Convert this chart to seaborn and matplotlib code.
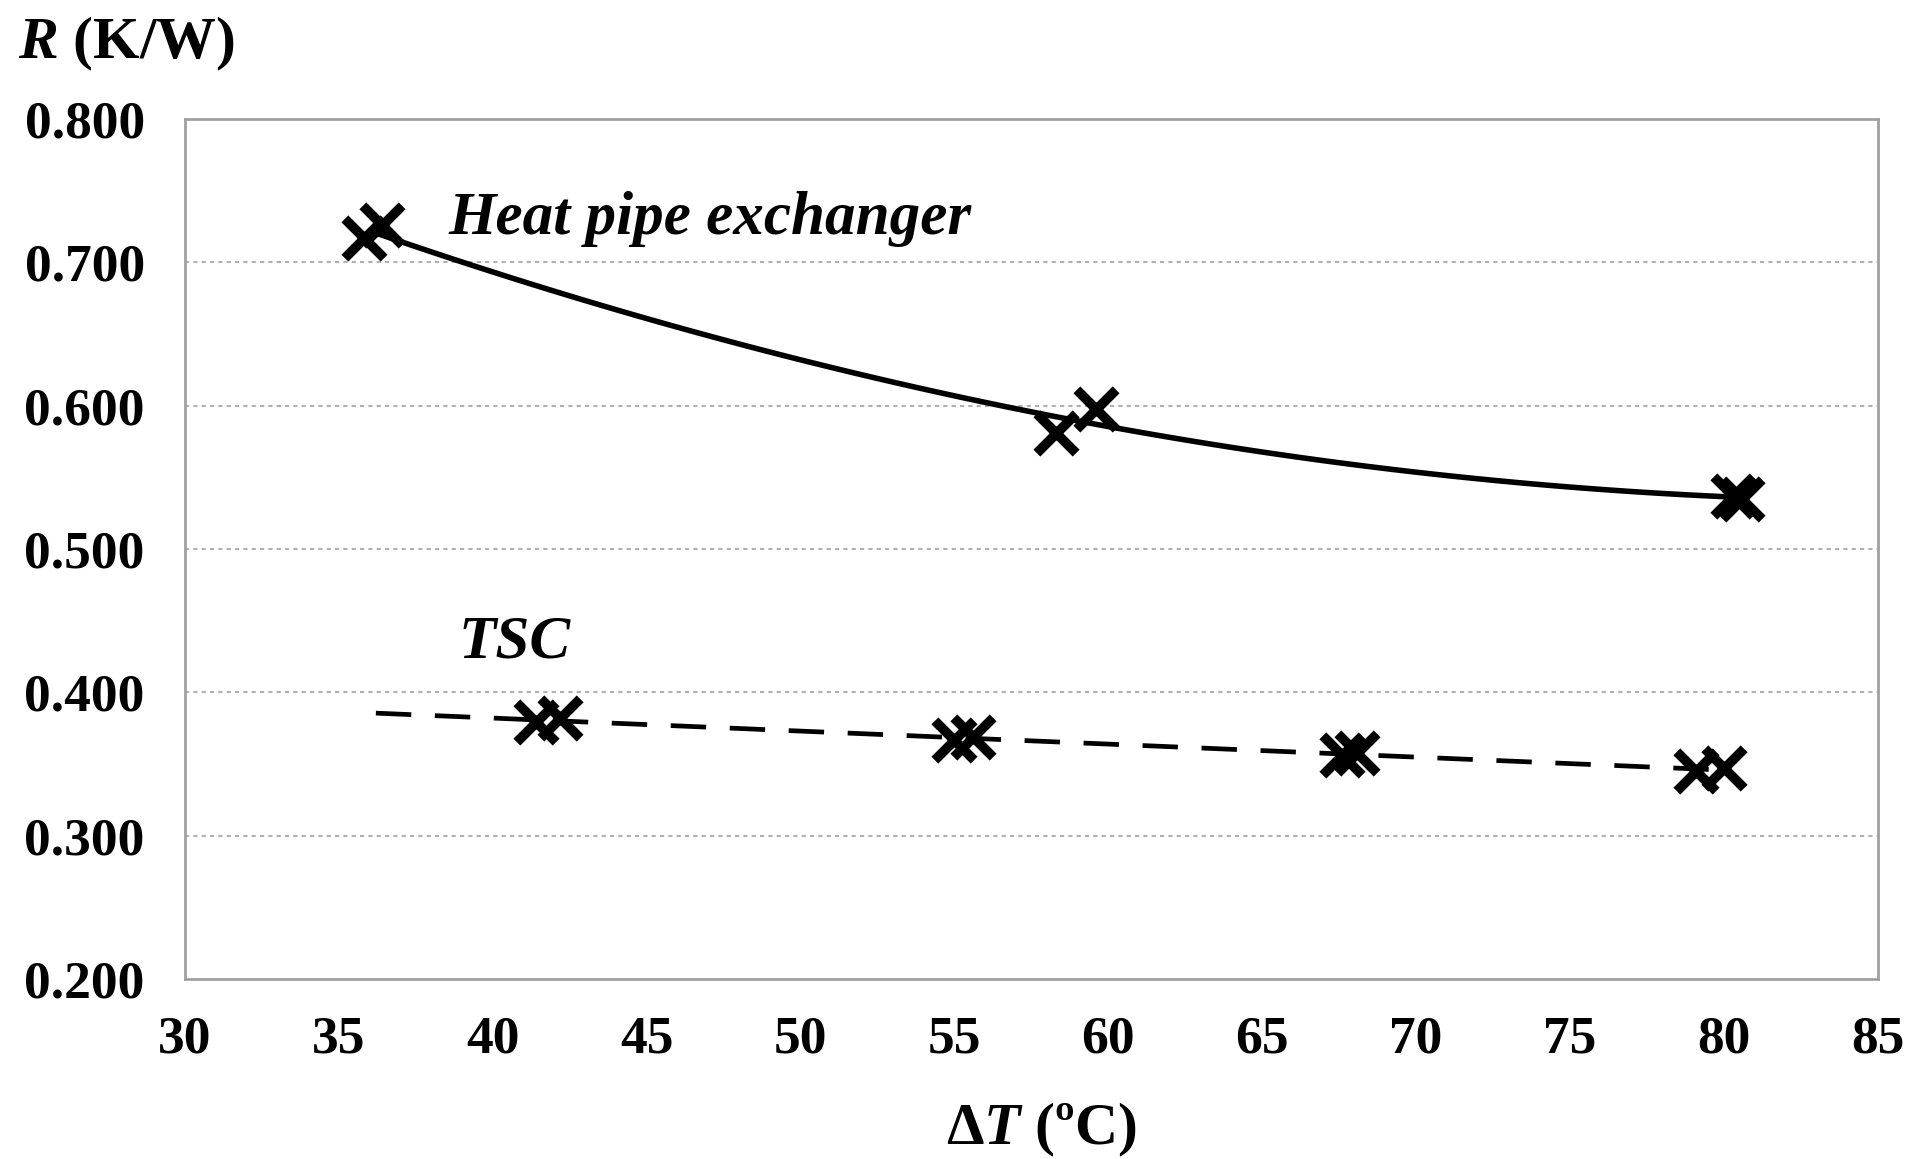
import numpy as np
import pandas as pd
import matplotlib
matplotlib.use('Agg')
import matplotlib.pyplot as plt
import seaborn as sb

# data
hp_dt = [35.8, 36.4, 58.3, 59.6, 80.3, 80.6]
hp_r = [0.717, 0.726, 0.581, 0.598, 0.537, 0.535]
tsc_dt = [41.4, 42.2, 55.0, 55.6, 67.6, 68.1, 79.1, 80.0]
tsc_r = [0.379, 0.382, 0.367, 0.369, 0.356, 0.358, 0.345, 0.347]
x_ticks = [30, 35, 40, 45, 50, 55, 60, 65, 70, 75, 80, 85]
y_ticks = [0.2, 0.3, 0.4, 0.5, 0.6, 0.7, 0.8]

sb.set_style('white')
plt.rcParams['font.family'] = ['Liberation Serif', 'DejaVu Serif']
plt.rcParams['font.weight'] = 'bold'
plt.rcParams['text.color'] = 'black'
plt.rcParams['mathtext.fontset'] = 'custom'
plt.rcParams['mathtext.it'] = 'Liberation Serif:bold:italic'
plt.rcParams['mathtext.rm'] = 'Liberation Serif:bold'

fig = plt.figure(figsize=(19.1, 11.59), dpi=100)
ax = fig.add_axes([0.0969, 0.1553, 0.8861, 0.742])

# trend lines fitted to the points (Excel style)
c_hp = np.polyfit(hp_dt, hp_r, 2)
xs_hp = np.linspace(36.0, 80.5, 100)
hp_fit = pd.DataFrame({'dt': xs_hp, 'r': np.polyval(c_hp, xs_hp)})
c_tsc = np.polyfit(tsc_dt, tsc_r, 1)
xs_tsc = np.linspace(36.2, 80.2, 50)
tsc_fit = pd.DataFrame({'dt': xs_tsc, 'r': np.polyval(c_tsc, xs_tsc)})

sb.lineplot(data=hp_fit, x='dt', y='r', ax=ax, color='black', lw=4, estimator=None, sort=False)
sb.lineplot(data=tsc_fit, x='dt', y='r', ax=ax, color='black', lw=3.4, estimator=None, sort=False)
ax.lines[-1].set_dashes((7.5, 5))

sb.scatterplot(x=hp_dt, y=hp_r, ax=ax, marker='x', s=800, linewidth=7, color='black', zorder=5)
sb.scatterplot(x=tsc_dt, y=tsc_r, ax=ax, marker='x', s=800, linewidth=7, color='black', zorder=5)

ax.set_xlim(30, 85)
ax.set_ylim(0.2, 0.8)
ax.set_xticks(x_ticks)
ax.set_yticks(y_ticks)
ax.set_yticklabels(['%.3f' % v for v in y_ticks])
ax.set_xlabel('')
ax.set_ylabel('')
ax.tick_params(axis='both', direction='out', length=11, width=1.5, color='#909090',
               labelcolor='black', labelsize=38.5, pad=15)
ax.tick_params(axis='y', pad=18)
for lab in ax.get_xticklabels() + ax.get_yticklabels():
    lab.set_fontweight('bold')
for s in ax.spines.values():
    s.set_color('#a0a0a0')
    s.set_linewidth(2)

for v in [0.3, 0.4, 0.5, 0.6, 0.7]:
    ax.axhline(v, color='#b0b0b0', lw=1.5, ls=(0, (2, 2)), zorder=0)

ax.text(38.55, 0.730, 'Heat pipe exchanger', fontsize=44, fontweight='bold',
        fontstyle='italic', va='center', ha='left')
ax.text(38.9, 0.435, 'TSC', fontsize=44, fontweight='bold',
        fontstyle='italic', va='center', ha='left')

fig.text(18 / 1910, 1 - 44 / 1159, r'$\mathit{R}$ (K/W)', fontsize=43,
         fontweight='bold', va='center', ha='left')
fig.text(1041 / 1910, 1 - 1130 / 1159, r'Δ$\mathit{T}$ (ºC)', fontsize=43,
         fontweight='bold', va='center', ha='center')

fig.savefig('out.png', dpi=100)
